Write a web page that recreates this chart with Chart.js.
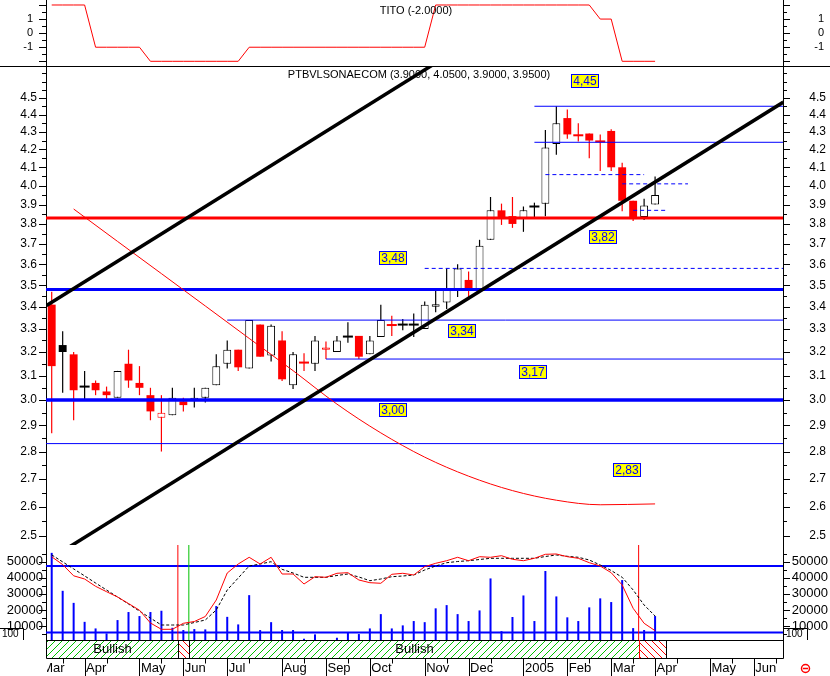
<!DOCTYPE html>
<html>
<head>
<meta charset="utf-8">
<title>PTBVLSONAECOM</title>
<script src="https://cdn.jsdelivr.net/npm/chart.js@4.4.1/dist/chart.umd.min.js"></script>
<style>
  body { margin: 0; background: #fff; }
  #wrap { position: relative; width: 830px; height: 676px; overflow: hidden; background: #fff; }
  #wrap canvas { position: absolute; left: 0; }
</style>
</head>
<body>
<div id="wrap">
  <canvas id="titoChart" width="830" height="67" style="top:0"></canvas>
  <canvas id="priceChart" width="830" height="479" style="top:66px"></canvas>
  <canvas id="volChart" width="830" height="95" style="top:545px"></canvas>
  <canvas id="bandChart" width="830" height="36" style="top:640px"></canvas>
</div>
<script>
// Data ------------------------------------------------------------------

// weekly bars, 0 = first week shown (Mar 2004), 55 = first week of Apr 2005
const weeks = Array.from({ length: 56 }, (_, i) => i);

const openP = [3.41, 3.23, 3.19, 3.055, 3.07, 3.035, 3.01, 3.15, 3.07, 3.02,
  2.93, 2.94, 2.995, 3.00, 3.01, 3.06, 3.15, 3.21, 3.13, 3.32,
  3.185, 3.25, 3.06, 3.155, 3.15, 3.21, 3.20, 3.267, 3.27, 3.19,
  3.265, 3.318, 3.32, 3.32, 3.30, 3.40, 3.42, 3.48, 3.525, 3.48,
  3.72, 3.87, 3.84, 3.825, 3.89, 3.905, 4.23, 4.38, 4.28, 4.29,
  4.245, 4.305, 4.10, 3.92, 3.835, 3.90];
const highP = [3.47, 3.29, 3.20, 3.12, 3.08, 3.055, 3.12, 3.21, 3.14, 3.05,
  3.02, 3.05, 3.01, 3.05, 3.05, 3.19, 3.25, 3.21, 3.34, 3.32,
  3.32, 3.29, 3.20, 3.195, 3.27, 3.245, 3.27, 3.33, 3.27, 3.27,
  3.41, 3.36, 3.345, 3.37, 3.425, 3.475, 3.58, 3.60, 3.565, 3.72,
  3.94, 3.905, 3.94, 3.89, 3.91, 4.31, 4.45, 4.43, 4.35, 4.29,
  4.285, 4.315, 4.125, 3.92, 3.93, 4.05];
const lowP = [2.87, 3.03, 2.92, 3.00, 3.02, 3.005, 3.01, 3.05, 3.02, 2.92,
  2.80, 2.94, 2.955, 2.97, 2.99, 3.06, 3.13, 3.12, 3.13, 3.18,
  3.16, 3.078, 3.045, 3.12, 3.12, 3.17, 3.20, 3.24, 3.17, 3.19,
  3.265, 3.27, 3.295, 3.265, 3.30, 3.375, 3.39, 3.445, 3.445, 3.48,
  3.72, 3.795, 3.78, 3.76, 3.83, 3.84, 4.17, 4.26, 4.245, 4.15,
  4.08, 4.08, 3.865, 3.815, 3.82, 3.90];
const closeP = [3.14, 3.20, 3.04, 3.055, 3.04, 3.02, 3.12, 3.08, 3.05, 2.955,
  2.95, 3.01, 2.98, 3.01, 3.05, 3.14, 3.21, 3.135, 3.34, 3.18,
  3.315, 3.085, 3.19, 3.155, 3.25, 3.22, 3.25, 3.267, 3.18, 3.25,
  3.34, 3.318, 3.32, 3.32, 3.41, 3.412, 3.485, 3.58, 3.48, 3.69,
  3.87, 3.83, 3.80, 3.87, 3.89, 4.21, 4.35, 4.285, 4.28, 4.25,
  4.245, 4.10, 3.92, 3.825, 3.895, 3.95];

const volume = [55500, 31900, 24400, 12600, 8500, 5400, 13700, 18700, 16200, 18700,
  19500, 8900, 7500, 8100, 7900, 22400, 15700, 11000, 29200, 7500,
  12400, 7500, 7500, 2100, 4800, 1000, 2700, 5800, 5000, 8500,
  17400, 8500, 10400, 13100, 12400, 21000, 23000, 17400, 13100, 19700,
  39600, 6800, 15600, 29000, 13100, 44200, 28400, 15400, 13100, 21600,
  27200, 24900, 38600, 8700, 7500, 16200];
// volume oscillator (red) and its signal line (black dashed)
const volFast = [53050, 48200, 41230, 39240, 34700, 31340, 28050, 24000, 19840, 11880,
  7960, 7960, 11690, 12810, 15920, 26180, 42970, 48570, 52740, 48570,
  52740, 42350, 42350, 36130, 40670, 40300, 42790, 43160, 38620, 36940,
  36570, 42160, 42790, 41730, 46890, 49000, 50620, 52740, 50620, 53110,
  52740, 53730, 51490, 50620, 52110, 54600, 54790, 53110, 52110, 49380,
  47330, 43160, 35510, 21020, 11690, 7090];
const volSlow = [54230, 49880, 45530, 41170, 36750, 32400, 28050, 23690, 19280, 14930,
  10630, 10630, 10630, 12190, 13740, 19960, 32400, 39860, 47330, 48570,
  50000, 45270, 42970, 40300, 40300, 40300, 41420, 42350, 40490, 38180,
  39240, 40670, 41100, 41730, 44840, 47330, 49380, 50120, 50620, 51370,
  52110, 52110, 52110, 52110, 52110, 53230, 54170, 53360, 52740, 51060,
  47950, 44530, 40300, 32400, 23070, 16230];
const volLevels = [47260, 6030];

const tito = [2, 2, 2, 2, -1, -1, -1, -1, -1, -2,
  -2, -2, -2, -2, -2, -2, -2, -2, -1, -1,
  -1, -1, -1, -1, -1, -1, -1, -1, -1, -1,
  -1, -1, -1, -1, -1, 2, 2, 2, 2, 2,
  2, 2, 2, 2, 2, 2, 2, 2, 2, 2,
  1, 1, -2, -2, -2, -2];

// support / resistance levels
const thickBlueLevels = [3.48, 3.00];
const redLevel = 3.83;
const thinLevels = [2.83, 3.34, 3.17, 4.45, 4.24];
const thinFrom = [-1, 16, 25, 44, 44];
const dashLevels = [3.58, 4.06, 4.01, 3.87];
const dashFrom = [34, 45, 52, 53];
const dashTo = [67, 54, 58, 56];

// trend channel (week, price at both ends)
const chanLowX = [1.49, 66.7], chanLowY = [2.461, 4.475];
const chanUpX = [-0.47, 40], chanUpY = [3.406, 4.937];

// long regression curve
const curveX = [2, 6, 10, 14, 18, 22, 26, 30, 34, 38, 42, 46, 50, 55];
const curveY = [3.877, 3.712, 3.555, 3.404, 3.259, 3.121, 2.984, 2.871, 2.779, 2.709, 2.657, 2.623, 2.607, 2.61];

// level notes
const noteText = ['4,45', '3,48', '3,34', '3,82', '3,17', '3,00', '2,83'];
const noteX = [48.57, 31.11, 37.38, 50.21, 43.87, 31.11, 52.44];
const noteY = [4.603, 3.632, 3.293, 3.734, 3.115, 2.960, 2.731];

// signals and trend-state band
const sellSignals = [11.5, 53.5];
const buySignals = [12.5];
const bandStart = [-0.52, 11.5, 12.5, 53.5];
const bandEnd = [11.5, 12.5, 53.5, 56];
const bandState = ['Bullish', 'Bearish', 'Bullish', 'Bearish'];

// axis labels
const priceTicks = [2.5, 2.6, 2.7, 2.8, 2.9, 3.0, 3.1, 3.2, 3.3, 3.4, 3.5,
  3.6, 3.7, 3.8, 3.9, 4.0, 4.1, 4.2, 4.3, 4.4, 4.5];
const volTicks = [10000, 20000, 30000, 40000, 50000];
const titoTicks = [-1, 0, 1];
const monthNames = ['Mar', 'Apr', 'May', 'Jun', 'Jul', 'Aug', 'Sep', 'Oct', 'Nov', 'Dec',
  '2005', 'Feb', 'Mar', 'Apr', 'May', 'Jun'];
const monthWeek = [-1, 3, 8, 12, 16, 21, 25, 29, 34, 38, 43, 47, 51, 55, 60, 64];

// Setup -----------------------------------------------------------------

const FONT = '"Liberation Sans", Arial, sans-serif';
const BLUE = '#0000ff', RED = '#ff0000', GREEN = '#00c000';
const X_MIN = -0.52, X_MAX = 66.66;

Chart.defaults.font.family = FONT;
Chart.defaults.color = '#000';
Chart.defaults.animation = false;
Chart.defaults.plugins.legend.display = false;
Chart.defaults.plugins.tooltip.enabled = false;

const xScale = { type: 'linear', min: X_MIN, max: X_MAX, display: false, offset: false };

function tickSet(from, to, step, isBig, labels, fmt) {
  const out = [];
  const n = Math.round((to - from) / step);
  for (let k = 0; k <= n; k++) {
    const v = +(from + k * step).toFixed(4);
    const lab = labels.find(l => Math.abs(l - v) < 1e-6);
    out.push({ value: v, big: isBig(v), text: lab !== undefined ? fmt(lab) : '' });
  }
  return out;
}

function yAxis(pos, cfg) {
  return {
    type: cfg.type || 'linear',
    position: pos,
    min: cfg.min,
    max: cfg.max,
    bounds: 'data',
    afterFit: s => {
      s.width = pos === 'left' ? 46 : cfg.rightW;
      s.paddingTop = 0;
      s.paddingBottom = 0;
    },
    afterBuildTicks: s => { s.ticks = cfg.ticks(); },
    grid: { display: false, drawTicks: false, tickLength: 0 },
    border: { display: true, color: '#000', width: 1 },
    ticks: {
      autoSkip: false,
      padding: pos === 'left' ? cfg.padL : 0,
      crossAlign: pos === 'left' ? 'near' : 'far',
      font: { size: cfg.fontSize },
      color: '#000',
      callback: (v, i, t) => t[i].text
    }
  };
}

// small/large tick marks on every y axis
const tickMarks = {
  id: 'tickMarks',
  afterDraw(chart) {
    const c = chart.ctx;
    c.save();
    c.strokeStyle = '#000';
    c.lineWidth = 1;
    c.beginPath();
    for (const s of Object.values(chart.scales)) {
      if (s.axis !== 'y' || !s.options.display) continue;
      for (const t of s.ticks) {
        const y = Math.round(s.getPixelForValue(t.value)) + 0.5;
        if (y < chart.chartArea.top || y > chart.chartArea.bottom) continue;
        const len = t.big ? 7 : 4;
        if (s.position === 'left') { c.moveTo(s.right - len, y); c.lineTo(s.right, y); }
        else { c.moveTo(s.left, y); c.lineTo(s.left + len, y); }
      }
    }
    c.stroke();
    c.restore();
  }
};

function seg(x0, x1, y0, y1, color, width, dash, order) {
  return {
    type: 'line',
    data: [{ x: x0, y: y0 }, { x: x1, y: y1 }],
    borderColor: color,
    borderWidth: width,
    borderDash: dash || [],
    pointRadius: 0,
    fill: false,
    clip: 0,
    order: order || 2
  };
}

const baseOptions = pad => ({
  responsive: false,
  devicePixelRatio: 1,
  layout: { autoPadding: false, padding: pad }
});

// TITO panel --------------------------------------------------------------

const titoTitle = {
  id: 'titoTitle',
  afterDraw(chart) {
    const c = chart.ctx;
    c.save();
    c.font = '11px ' + FONT;
    c.fillStyle = '#000';
    c.textAlign = 'center';
    c.textBaseline = 'middle';
    c.fillText('TITO (' + tito[tito.length - 1].toFixed(4) + ')', 416, 11);
    c.strokeStyle = '#000';
    c.lineWidth = 1;
    c.beginPath();
    c.moveTo(0, 66.5);
    c.lineTo(830, 66.5);
    c.stroke();
    c.restore();
  }
};

const titoAxis = {
  min: -2.334, max: 2.355, rightW: 41, padL: 13, fontSize: 11,
  ticks: () => tickSet(-2, 2, 0.5, v => Number.isInteger(v), titoTicks, String)
};

new Chart(document.getElementById('titoChart'), {
  type: 'line',
  data: {
    datasets: [{
      data: weeks.map(i => ({ x: i, y: tito[i] })),
      borderColor: RED,
      borderWidth: 1,
      pointRadius: 0,
      clip: 0,
      yAxisID: 'y'
    }]
  },
  options: Object.assign(baseOptions({ left: 0, right: 6, top: 0, bottom: 1 }), {
    scales: {
      x: xScale,
      y: yAxis('left', titoAxis),
      yR: yAxis('right', titoAxis)
    }
  }),
  plugins: [tickMarks, titoTitle]
});

// Price panel -------------------------------------------------------------

const candleColor = i => (i === 0 || closeP[i] < closeP[i - 1]) ? RED : '#000';
const isFilled = i => closeP[i] < openP[i];

const priceDatasets = [];

// wicks
priceDatasets.push({
  type: 'bar',
  data: weeks.map(i => ({ x: i, y: [lowP[i], highP[i]] })),
  grouped: false,
  maxBarThickness: 1.2,
  backgroundColor: ctx => ctx.raw ? candleColor(ctx.raw.x) : '#000',
  borderWidth: 0,
  order: 12
});
// bodies
priceDatasets.push({
  type: 'bar',
  data: weeks.filter(i => openP[i] !== closeP[i]).map(i => ({ x: i, y: [openP[i], closeP[i]] })),
  grouped: false,
  maxBarThickness: 9,
  backgroundColor: ctx => ctx.raw ? (isFilled(ctx.raw.x) ? candleColor(ctx.raw.x) : '#fff') : '#000',
  borderColor: ctx => ctx.raw ? candleColor(ctx.raw.x) : '#000',
  borderWidth: ctx => ctx.raw ? (isFilled(ctx.raw.x) ? 0 : 1) : 0,
  borderSkipped: false,
  order: 11
});
// doji crosses
priceDatasets.push({
  type: 'line',
  showLine: false,
  data: weeks.filter(i => openP[i] === closeP[i]).map(i => ({ x: i, y: closeP[i] })),
  pointStyle: 'line',
  pointRadius: 5,
  pointBorderWidth: 2,
  pointBorderColor: ctx => ctx.raw ? candleColor(ctx.raw.x) : '#000',
  order: 10
});

thickBlueLevels.forEach((v, k) => priceDatasets.push(seg(-1, 67, v, v, BLUE, k === 0 ? 3 : 3.5)));
priceDatasets.push(seg(-1, 67, redLevel, redLevel, RED, 3));
thinLevels.forEach((v, k) => priceDatasets.push(seg(thinFrom[k], 67, v, v, BLUE, 1)));
dashLevels.forEach((v, k) => priceDatasets.push(seg(dashFrom[k], dashTo[k], v, v, BLUE, 1, [4, 3])));
priceDatasets.push(seg(chanLowX[0], chanLowX[1], chanLowY[0], chanLowY[1], '#000', 3.5, null, 1));
priceDatasets.push(seg(chanUpX[0], chanUpX[1], chanUpY[0], chanUpY[1], '#000', 3.5, null, 1));
priceDatasets.push({
  type: 'line',
  data: curveX.map((x, k) => ({ x: x, y: curveY[k] })),
  borderColor: RED,
  borderWidth: 1,
  pointRadius: 0,
  cubicInterpolationMode: 'monotone',
  clip: 0,
  order: 1
});

const priceNotes = {
  id: 'priceNotes',
  afterDatasetsDraw(chart) {
    const { ctx: c, scales: { x, y } } = chart;
    c.save();
    c.font = '12px ' + FONT;
    c.textAlign = 'center';
    c.textBaseline = 'middle';
    c.lineWidth = 1;
    noteText.forEach((t, k) => {
      const px = Math.round(x.getPixelForValue(noteX[k]));
      const py = Math.round(y.getPixelForValue(noteY[k]));
      c.fillStyle = '#ffff00';
      c.fillRect(px - 14, py - 7, 28, 14);
      c.strokeStyle = BLUE;
      c.strokeRect(px - 13.5, py - 6.5, 27, 13);
      c.fillStyle = BLUE;
      c.fillText(t, px, py + 0.5);
    });
    const last = weeks.length - 1;
    const title = 'PTBVLSONAECOM (' + [openP[last], highP[last], lowP[last], closeP[last]]
      .map(v => v.toFixed(4)).join(', ') + ')';
    c.font = '11px ' + FONT;
    c.fillStyle = '#000';
    c.fillText(title, 419, 9);
    c.restore();
  }
};

const priceAxis = {
  type: 'logarithmic', min: 2.470, max: 4.697, rightW: 43, padL: 9, fontSize: 12,
  ticks: () => tickSet(2.5, 4.65, 0.05,
    v => priceTicks.some(p => Math.abs(p - v) < 1e-6), priceTicks, v => v.toFixed(1))
};

new Chart(document.getElementById('priceChart'), {
  type: 'line',
  data: { datasets: priceDatasets },
  options: Object.assign(baseOptions({ left: 0, right: 4, top: 0, bottom: 0 }), {
    scales: {
      x: xScale,
      y: yAxis('left', priceAxis),
      yR: yAxis('right', priceAxis)
    }
  }),
  plugins: [tickMarks, priceNotes]
});

// Volume panel ------------------------------------------------------------

const volDatasets = [{
  type: 'bar',
  data: weeks.map(i => ({ x: i, y: volume[i] })),
  grouped: false,
  maxBarThickness: 2,
  backgroundColor: BLUE,
  order: 5
}];
volLevels.forEach(v => volDatasets.push(seg(-1, 67, v, v, BLUE, 2, null, 4)));
sellSignals.forEach(s => volDatasets.push(seg(s, s, 0, 70000, RED, 1, null, 3)));
buySignals.forEach(s => volDatasets.push(seg(s, s, 0, 70000, GREEN, 1, null, 3)));
volDatasets.push({
  type: 'line',
  data: weeks.map(i => ({ x: i, y: volSlow[i] })),
  borderColor: '#000',
  borderWidth: 1,
  borderDash: [3, 2],
  pointRadius: 0,
  clip: 0,
  order: 2
});
volDatasets.push({
  type: 'line',
  data: weeks.map(i => ({ x: i, y: volFast[i] })),
  borderColor: RED,
  borderWidth: 1,
  pointRadius: 0,
  clip: 0,
  order: 1
});

const volBoxes = {
  id: 'volBoxes',
  afterDraw(chart) {
    const c = chart.ctx;
    c.save();
    c.strokeStyle = '#000';
    c.lineWidth = 1;
    c.font = '10px ' + FONT;
    c.fillStyle = '#000';
    c.textBaseline = 'middle';
    c.beginPath();
    c.moveTo(0, 83.5); c.lineTo(23.5, 83.5); c.lineTo(23.5, 95);
    c.moveTo(784, 83.5); c.lineTo(807.5, 83.5); c.lineTo(807.5, 95);
    c.stroke();
    c.fillText('100', 2, 89.5);
    c.fillText('100', 786, 89.5);
    c.restore();
  }
};

const volAxis = {
  min: 1306, max: 60386, rightW: 45, padL: 3, fontSize: 13,
  ticks: () => tickSet(5000, 55000, 5000, v => v % 10000 === 0, volTicks, String)
};

new Chart(document.getElementById('volChart'), {
  type: 'line',
  data: { datasets: volDatasets },
  options: Object.assign(baseOptions({ left: 0, right: 2, top: 0, bottom: 0 }), {
    scales: {
      x: xScale,
      y: yAxis('left', volAxis),
      yR: yAxis('right', volAxis)
    }
  }),
  plugins: [tickMarks, volBoxes]
});

// Trend band and month axis -------------------------------------------------

function hatch(color, forward) {
  const p = document.createElement('canvas');
  p.width = 7; p.height = 7;
  const g = p.getContext('2d');
  g.strokeStyle = color;
  g.lineWidth = 1;
  g.beginPath();
  if (forward) { g.moveTo(-1, 8); g.lineTo(8, -1); }
  else { g.moveTo(-1, -1); g.lineTo(8, 8); }
  g.stroke();
  return p;
}

const bandDraw = {
  id: 'bandDraw',
  afterDraw(chart) {
    const { ctx: c, chartArea: a, scales: { x } } = chart;
    const px = v => Math.round(x.getPixelForValue(v)) + 0.5;
    const top = 0.5, bot = 18.5;
    c.save();
    const bull = c.createPattern(hatch(GREEN, true), 'repeat');
    const bear = c.createPattern(hatch(RED, false), 'repeat');
    bandState.forEach((st, k) => {
      const x0 = Math.max(px(bandStart[k]), a.left + 0.5), x1 = px(bandEnd[k]);
      c.fillStyle = st === 'Bullish' ? bull : bear;
      c.fillRect(x0, top, x1 - x0, bot - top);
      if (st === 'Bullish') {
        c.font = '13px ' + FONT;
        c.fillStyle = '#000';
        c.textAlign = 'center';
        c.textBaseline = 'middle';
        c.fillText(st, (x0 + x1) / 2, 9.5);
      }
    });
    c.strokeStyle = '#000';
    c.lineWidth = 1;
    c.beginPath();
    c.moveTo(a.left + 0.5, top); c.lineTo(783.5, top);
    c.moveTo(a.left + 0.5, bot); c.lineTo(783.5, bot);
    c.moveTo(a.left + 0.5, 0); c.lineTo(a.left + 0.5, bot);
    c.moveTo(783.5, 0); c.lineTo(783.5, bot);
    bandEnd.forEach(e => { c.moveTo(px(e), top); c.lineTo(px(e), bot); });
    c.stroke();
    // latest signal runs through the band
    const lastSell = sellSignals[sellSignals.length - 1];
    c.strokeStyle = RED;
    c.beginPath();
    c.moveTo(px(lastSell), 0); c.lineTo(px(lastSell), bot);
    c.stroke();

    // month ticks and labels
    c.strokeStyle = '#000';
    c.beginPath();
    monthWeek.forEach(m => {
      if (m >= X_MIN) { c.moveTo(px(m), bot); c.lineTo(px(m), 36); }
      const mid = m + 2;
      if (mid > X_MIN && mid < X_MAX) { c.moveTo(px(mid), bot); c.lineTo(px(mid), bot + 5); }
    });
    c.stroke();
    c.save();
    c.beginPath();
    c.rect(a.left + 1, bot, 830, 36);
    c.clip();
    c.font = '13px ' + FONT;
    c.fillStyle = '#000';
    c.textAlign = 'left';
    c.textBaseline = 'middle';
    monthWeek.forEach((m, k) => c.fillText(monthNames[k], x.getPixelForValue(m) + 1.5, 28));
    c.restore();

    // status icon
    c.strokeStyle = RED;
    c.lineWidth = 1.5;
    c.beginPath();
    c.arc(805.5, 28.5, 4, 0, Math.PI * 2);
    c.moveTo(803, 28.5); c.lineTo(808, 28.5);
    c.stroke();
    c.restore();
  }
};

new Chart(document.getElementById('bandChart'), {
  type: 'scatter',
  data: { datasets: [{ data: [] }] },
  options: Object.assign(baseOptions({ left: 46, right: 47, top: 0, bottom: 18 }), {
    scales: { x: xScale, y: { display: false, min: 0, max: 1 } }
  }),
  plugins: [bandDraw]
});
</script>
</body>
</html>
